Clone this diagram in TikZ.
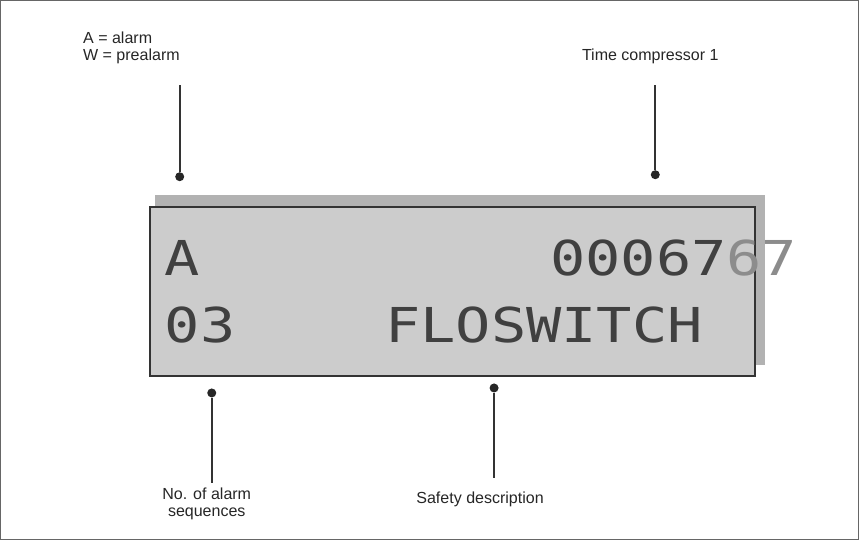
\documentclass[tikz,border=0pt]{standalone}
\usepackage{fontspec}
\setmainfont{Liberation Sans}
\newfontfamily\lcdfont{DejaVu Sans Mono}
\begin{document}
\begin{tikzpicture}[x=1pt, y=-1pt,
    lbl/.style={font=\fontsize{16}{17}\selectfont, align=center, text=black!85},
    lcd/.style={font=\lcdfont\fontsize{48}{48}\selectfont, text=black!75, xscale=1.22, inner sep=0pt, anchor=base west},
    lead/.style={draw=black!80, line width=2pt},
    tip/.style={circle, fill=black!85, inner sep=0pt, minimum size=9pt}]
  \draw[black!60, line width=1pt] (1,1) rectangle (858,539);
  % display
  \fill[black!30] (155,195) rectangle (765,365);
  \draw[fill=black!20, line width=2.2pt, draw=black!80] (150,207) rectangle (755,376);
  \node[lcd] (mode) at (165,276) {A};
  \node[lcd] (timer) at (550,276) {00067};
  \node[lcd, text=black!45] (timerx) at (726,276) {67};
  \node[lcd] (count) at (165,343) {03};
  \node[lcd] (desc) at (385,343) {FLOSWITCH};
  % leaders
  \node[tip] (d1) at (180,177) {};
  \node[tip] (d2) at (655,175) {};
  \node[tip] (d3) at (212,393) {};
  \node[tip] (d4) at (494,388) {};
  \coordinate (e1) at (180,85);
  \coordinate (e2) at (655,85);
  \coordinate (e3) at (212,483);
  \coordinate (e4) at (494,478);
  \draw[lead] (d1) -- (e1);
  \draw[lead] (d2) -- (e2);
  \draw[lead] (d3) -- (e3);
  \draw[lead] (d4) -- (e4);
  \node[lbl, align=left, anchor=south west] (l1) at (80,68) {A = alarm\\W = prealarm};
  \node[lbl, anchor=south] (l2) at (650,68) {Time compressor 1};
  \node[lbl, anchor=north] (l3) at (207,484) {No. of alarm\\sequences};
  \node[lbl, anchor=north] (l4) at (480,488) {Safety description};
\end{tikzpicture}
\end{document}
